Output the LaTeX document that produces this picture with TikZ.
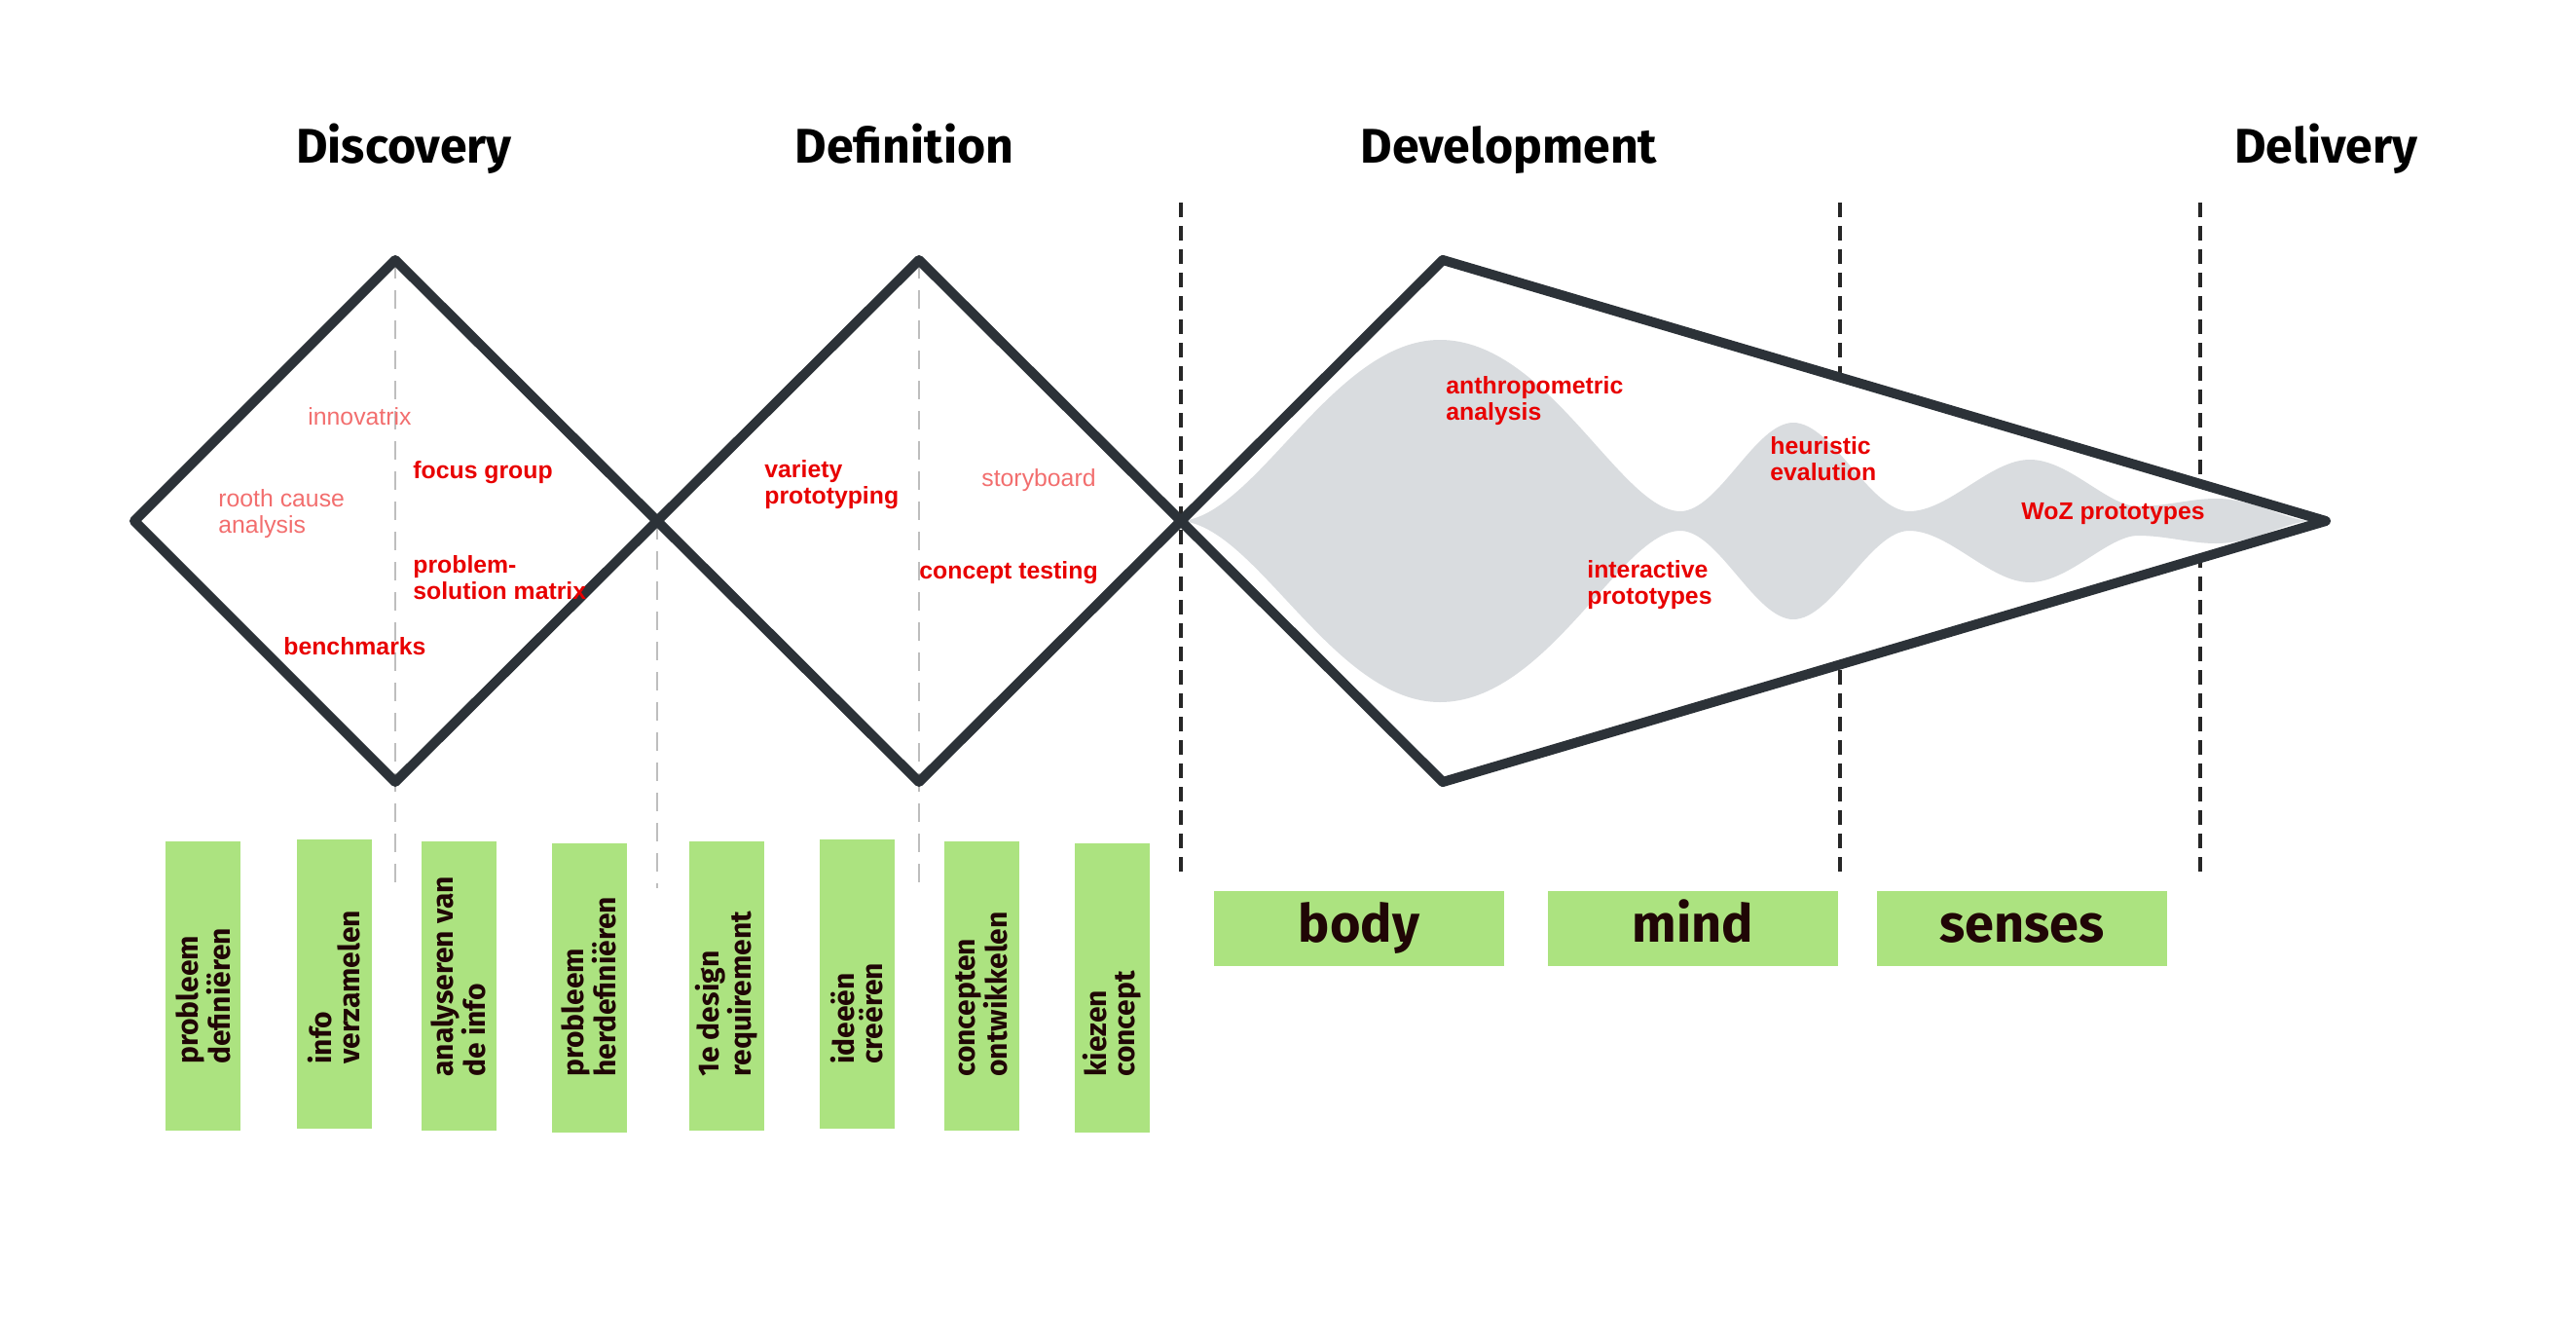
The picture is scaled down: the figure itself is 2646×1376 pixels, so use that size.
\documentclass[tikz,border=0pt]{standalone}
\usepackage{fontspec}
\setmainfont{Liberation Sans}
\newfontfamily\headfont{Fira Sans}
\definecolor{framegray}{RGB}{44,50,56}
\definecolor{wavegray}{RGB}{217,220,223}
\definecolor{guidegray}{RGB}{190,190,190}
\definecolor{stepgreen}{RGB}{172,227,128}
\definecolor{tooltext}{RGB}{232,0,0}
\definecolor{softtext}{RGB}{242,110,110}
\definecolor{boxtext}{RGB}{32,6,6}
\begin{document}
\begin{tikzpicture}[x=0.5pt,y=-0.5pt,
  frame/.style={draw=framegray,line width=5pt,line join=round},
  guide/.style={guidegray,line width=1.2pt,dash pattern=on 9.5pt off 6pt},
  border/.style={black!85,line width=2pt,dash pattern=on 7.5pt off 4.5pt},
  phase/.style={font=\headfont\bfseries\fontsize{25}{30}\selectfont,anchor=base},
  tool/.style={font=\bfseries\fontsize{12.4}{13.5}\selectfont,text=tooltext,align=left,anchor=west,inner sep=0pt},
  softtool/.style={tool,font=\fontsize{12.4}{13.5}\selectfont,text=softtext},
  stepbox/.style={fill=stepgreen,minimum width=38.5pt,minimum height=148.5pt,inner sep=0pt},
  steptext/.style={font=\headfont\bfseries\fontsize{15}{14.5}\selectfont,text=boxtext,rotate=90,anchor=west,align=left,inner sep=0pt},
  areabox/.style={fill=stepgreen,minimum width=149pt,minimum height=38.5pt,inner sep=0pt,text height=20pt,text depth=6.5pt,font=\headfont\bfseries\fontsize{27}{30}\selectfont,text=boxtext}]
\useasboundingbox (0,0) rectangle (2646,1376);
% corners of the diamonds
\coordinate (d1l) at (138,535);
\coordinate (d1t) at (406,267);
\coordinate (d1b) at (406,803);
\coordinate (c12) at (675,535);
\coordinate (d2t) at (944,267);
\coordinate (d2b) at (944,803);
\coordinate (c23) at (1213,535);
\coordinate (d3t) at (1482,267);
\coordinate (d3b) at (1482,803);
\coordinate (tip) at (2389,535);
% grey guides
\draw[guide] (d1t) -- (406,906);
\draw[guide] (c12) -- (675,912);
\draw[guide] (d2t) -- (944,906);
% phase borders
\foreach \x in {1213,1890,2260}
\draw[border] (\x,208) -- (\x,904);
% development shape
\fill[white] (c23) -- (d3t) -- (tip) -- (d3b) -- cycle;
\fill[wavegray] (c23) .. controls (1290,530) and (1370,349) .. (1479,349)
  .. controls (1590,349) and (1665,525) .. (1726,525)
  .. controls (1765,525) and (1803,434) .. (1842,434)
  .. controls (1882,434) and (1921,525) .. (1961,525)
  .. controls (2002,525) and (2044,472) .. (2085,472)
  .. controls (2125,472) and (2165,520) .. (2196,520)
  .. controls (2225,520) and (2250,512) .. (2276,512)
  .. controls (2315,512) and (2345,533) .. (2372,535)
  .. controls (2345,537) and (2315,558) .. (2276,558)
  .. controls (2250,558) and (2225,550) .. (2196,550)
  .. controls (2165,550) and (2125,598) .. (2085,598)
  .. controls (2044,598) and (2002,545) .. (1961,545)
  .. controls (1921,545) and (1882,636) .. (1842,636)
  .. controls (1803,636) and (1765,545) .. (1726,545)
  .. controls (1665,545) and (1590,721) .. (1479,721)
  .. controls (1370,721) and (1290,540) .. (c23) -- cycle;
\draw[frame] (d1l) -- (d1t) -- (c12) -- (d1b) -- cycle;
\draw[frame] (c12) -- (d2t) -- (c23) -- (d2b) -- cycle;
\draw[frame] (c23) -- (d3t) -- (tip) -- (d3b) -- cycle;
% phases
\node[phase] (discovery) at (415,167) {Discovery};
\node[phase] (definition) at (929,167) {Definition};
\node[phase] (development) at (1550,167) {Development};
\node[phase] (delivery) at (2389,167) {Delivery};
% methods
\node[softtool] (innovatrix) at (316,428) {innovatrix};
\node[tool] (focus) at (424,485) {focus group};
\node[softtool] (rooth) at (224,528) {rooth cause\\analysis};
\node[tool] (matrix) at (424,593) {problem-\\solution matrix};
\node[tool] (bench) at (291,664) {benchmarks};
\node[tool] (variety) at (785,498) {variety\\prototyping};
\node[softtool] (story) at (1008,493) {storyboard};
\node[tool] (testing) at (944,588) {concept testing};
\node[tool] (anthro) at (1485,412) {anthropometric\\analysis};
\node[tool] (heuristic) at (1818,471) {heuristic\\evalution};
\node[tool] (interactive) at (1630,601) {interactive\\prototypes};
\node[tool] (woz) at (2076,528) {WoZ prototypes};
% steps
\foreach \n/\x/\y/\s/\t in {1/208.5/1012.5/1093/{probleem\\definiëren},
  2/343/1010.5/1093/{info\\verzamelen},
  3/471/1012.5/1106/{analyseren van\\de info},
  4/605/1014.5/1106/{probleem\\herdefiniëren},
  5/746/1012.5/1106/{1e design\\requirement},
  6/880.5/1010.5/1093/{ideeën\\creëren},
  7/1008/1012.5/1106/{concepten\\ontwikkelen},
  8/1142.5/1014.5/1106/{kiezen\\concept}}{
\node[stepbox] (step\n) at (\x,\y) {};
\node[steptext] (steplabel\n) at (\x,\s) {\t};}
% areas
\node[areabox] (body) at (1396,953.5) {body};
\node[areabox] (mind) at (1739,953.5) {mind};
\node[areabox] (senses) at (2077,953.5) {senses};
\end{tikzpicture}
\end{document}
